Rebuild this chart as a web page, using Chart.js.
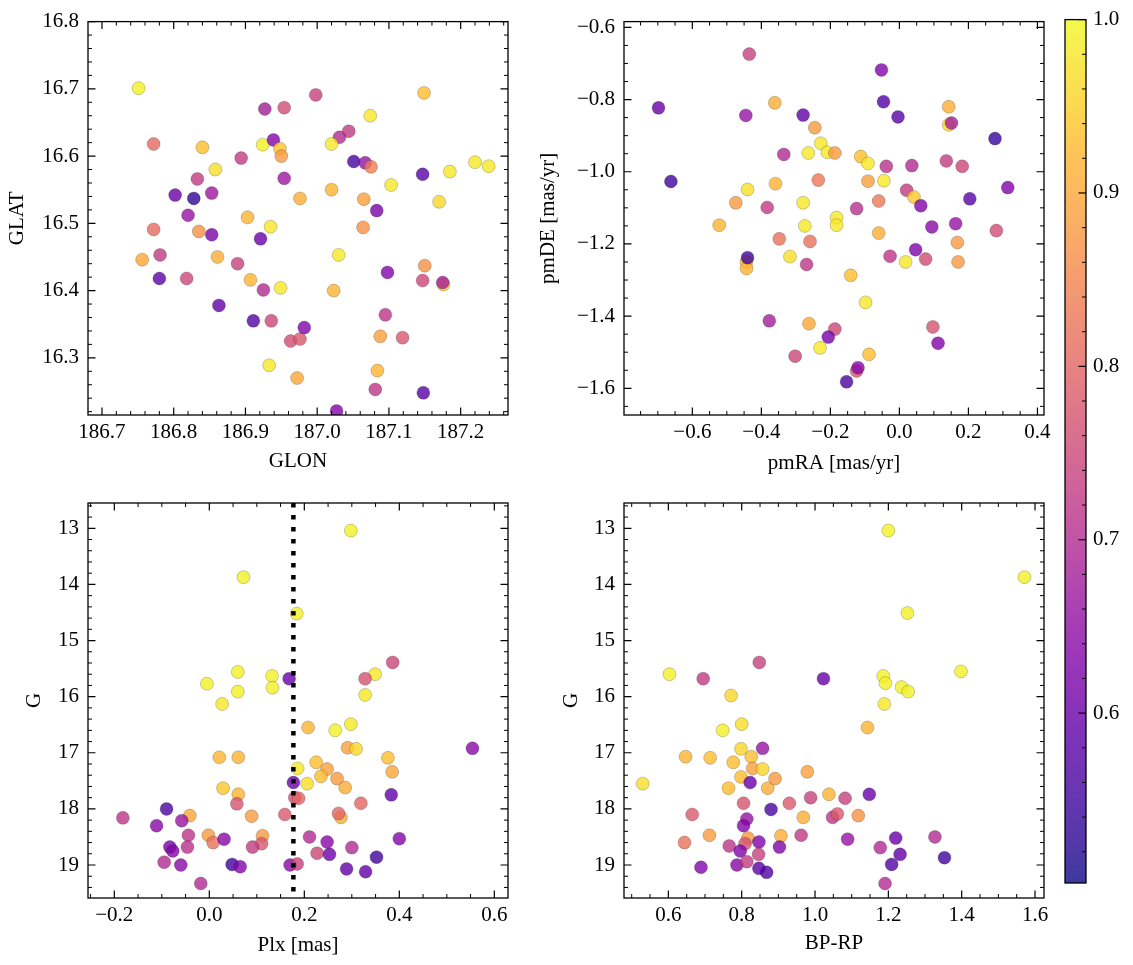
<!DOCTYPE html>
<html><head><meta charset="utf-8">
<script src="https://cdn.jsdelivr.net/npm/chart.js@4.4.0/dist/chart.umd.min.js"></script>
<style>
html,body{margin:0;padding:0;background:#fff;}
#wrap{position:relative;width:1133px;height:965px;background:#fff;}
canvas{position:absolute;left:0;top:0;}
</style></head><body><div id="wrap">
<canvas id="c1" width="1133" height="965"></canvas>
<canvas id="c2" width="1133" height="965"></canvas>
<canvas id="c3" width="1133" height="965"></canvas>
<canvas id="c4" width="1133" height="965"></canvas>
<canvas id="cb" width="1133" height="965"></canvas>
</div>
<script>
// ---------------- DATA ----------------
// Panel 1: sky positions
const GLON = [186.751,186.927,186.954,186.772,186.840,186.924,186.939,186.948,186.950,186.894,186.858,186.833,186.954,186.802,186.828,186.853,186.976,186.820,186.903,186.935,186.772,186.835,186.853,186.921,186.756,186.781,186.861,186.889,186.780,186.818,186.907,186.925,186.949,186.863,186.911,186.936,186.963,186.976,186.982,186.933,186.972,186.998,187.149,187.074,187.044,187.031,187.020,187.051,187.067,187.075,187.147,187.185,187.220,187.239,187.103,187.020,187.065,187.170,187.083,187.064,187.030,187.098,187.150,187.147,187.176,187.175,187.023,187.095,187.088,187.119,187.084,187.081,187.148,187.027];
const GLAT = [16.701,16.670,16.672,16.618,16.613,16.617,16.624,16.611,16.600,16.597,16.580,16.566,16.567,16.542,16.537,16.545,16.537,16.512,16.509,16.495,16.491,16.488,16.483,16.477,16.446,16.453,16.450,16.440,16.418,16.418,16.416,16.401,16.404,16.378,16.355,16.355,16.325,16.328,16.345,16.289,16.270,16.691,16.694,16.660,16.637,16.628,16.618,16.592,16.590,16.584,16.573,16.577,16.591,16.585,16.557,16.550,16.536,16.532,16.519,16.494,16.453,16.427,16.437,16.415,16.409,16.412,16.400,16.364,16.332,16.330,16.281,16.253,16.248,16.221];
const P_SKY = [0.99,0.68,0.76,0.81,0.93,0.99,0.63,0.94,0.88,0.73,0.97,0.73,0.67,0.60,0.53,0.67,0.91,0.66,0.92,0.98,0.81,0.87,0.62,0.60,0.90,0.73,0.91,0.74,0.58,0.75,0.92,0.70,0.98,0.59,0.57,0.75,0.76,0.78,0.63,0.98,0.90,0.74,0.93,0.98,0.73,0.70,0.98,0.56,0.66,0.84,0.58,0.98,0.98,0.98,0.98,0.92,0.89,0.96,0.62,0.87,0.98,0.63,0.87,0.75,0.95,0.68,0.92,0.72,0.89,0.78,0.92,0.72,0.58,0.63];

// Panel 2: proper motions
const PMRA = [-0.435,-0.698,-0.361,-0.445,-0.279,-0.245,-0.228,-0.335,-0.264,-0.209,-0.187,-0.662,-0.235,-0.440,-0.359,-0.474,-0.383,-0.279,-0.522,-0.274,-0.182,-0.182,-0.348,-0.259,-0.443,-0.443,-0.440,-0.317,-0.269,-0.377,-0.262,-0.187,-0.206,-0.230,-0.302,-0.052,-0.046,-0.004,0.143,0.143,0.151,0.277,-0.112,-0.091,-0.038,0.036,0.136,0.182,-0.091,-0.045,0.021,0.042,0.062,0.204,0.314,-0.060,-0.124,-0.060,0.094,0.163,0.281,0.168,0.047,-0.027,0.018,0.076,0.170,-0.141,-0.098,0.097,0.112,-0.088,-0.124,-0.120,-0.153];
const PMDE = [-0.674,-0.823,-0.809,-0.844,-0.843,-0.878,-0.921,-0.952,-0.948,-0.946,-0.948,-1.027,-1.023,-1.049,-1.033,-1.086,-1.099,-1.086,-1.148,-1.150,-1.127,-1.148,-1.186,-1.193,-1.250,-1.268,-1.238,-1.235,-1.257,-1.413,-1.421,-1.436,-1.458,-1.488,-1.511,-0.718,-0.806,-0.848,-0.820,-0.870,-0.865,-0.908,-0.958,-0.977,-0.985,-0.983,-0.970,-0.985,-1.026,-1.025,-1.051,-1.070,-1.094,-1.075,-1.044,-1.081,-1.102,-1.170,-1.153,-1.144,-1.163,-1.196,-1.216,-1.234,-1.250,-1.242,-1.250,-1.287,-1.362,-1.430,-1.475,-1.506,-1.552,-1.543,-1.582];
const P_PM = [0.74,0.60,0.91,0.66,0.59,0.88,0.98,0.70,0.98,0.98,0.88,0.55,0.83,0.97,0.92,0.88,0.73,0.98,0.92,0.98,0.98,0.98,0.82,0.82,0.93,0.92,0.55,0.97,0.72,0.68,0.90,0.75,0.62,0.98,0.75,0.63,0.57,0.58,0.91,0.96,0.68,0.54,0.93,0.98,0.71,0.70,0.73,0.75,0.89,0.98,0.73,0.94,0.63,0.58,0.63,0.83,0.71,0.91,0.64,0.66,0.76,0.88,0.63,0.72,0.98,0.76,0.88,0.93,0.98,0.77,0.63,0.93,0.77,0.64,0.56];

// Panel 3: parallax vs G
const PLX = [0.072,0.184,0.060,-0.005,0.060,0.027,0.132,0.133,0.168,0.021,0.061,0.029,0.061,0.058,0.186,0.177,0.180,0.188,-0.182,-0.090,-0.111,-0.041,-0.058,-0.044,-0.002,0.008,0.031,0.089,0.112,0.110,0.091,0.159,-0.083,-0.077,-0.046,-0.095,-0.060,0.048,0.065,-0.018,0.170,0.185,0.298,0.386,0.349,0.328,0.328,0.208,0.265,0.298,0.291,0.309,0.376,0.385,0.225,0.248,0.235,0.206,0.269,0.286,0.383,0.319,0.277,0.272,0.211,0.248,0.227,0.253,0.300,0.289,0.329,0.352,0.400,0.554];
const G_PLX = [13.87,14.52,15.56,15.77,15.91,16.13,15.63,15.84,15.68,17.08,17.08,17.63,17.74,17.91,17.28,17.53,17.80,17.81,18.16,18.00,18.30,18.12,18.21,18.47,18.47,18.60,18.54,18.13,18.48,18.62,18.68,18.10,18.68,18.75,18.68,18.95,19.00,18.99,19.03,19.33,19.00,18.98,13.04,15.39,15.60,15.68,15.97,16.55,16.60,16.49,16.91,16.93,17.09,17.34,17.17,17.29,17.42,17.55,17.46,17.62,17.75,17.90,18.15,18.08,18.50,18.59,18.79,18.81,18.69,19.07,19.12,18.86,18.53,16.92];
const P_PLX = [0.99,0.99,0.99,0.99,0.99,0.98,0.99,0.99,0.60,0.92,0.92,0.94,0.92,0.77,0.98,0.60,0.76,0.80,0.72,0.56,0.64,0.90,0.66,0.72,0.88,0.82,0.64,0.88,0.88,0.78,0.73,0.78,0.62,0.63,0.71,0.70,0.64,0.55,0.63,0.70,0.64,0.74,0.99,0.75,0.98,0.77,0.98,0.92,0.99,0.98,0.89,0.96,0.93,0.90,0.93,0.89,0.93,0.97,0.88,0.91,0.59,0.80,0.91,0.80,0.70,0.64,0.75,0.60,0.70,0.59,0.59,0.55,0.63,0.64];
const PLX_LINE = 0.177;

// Panel 4: colour-magnitude
const BPRP = [0.603,0.695,0.848,1.023,0.771,0.800,0.748,0.647,0.714,0.798,0.857,0.777,0.826,0.830,0.857,0.798,0.823,0.764,0.871,0.891,0.979,0.530,1.038,1.048,0.805,0.880,0.930,0.988,0.968,0.665,0.814,0.805,0.644,0.712,0.817,0.907,0.962,0.847,0.903,0.766,0.809,0.796,0.846,0.689,0.787,0.814,0.847,0.868,1.200,1.571,1.252,1.186,1.192,1.236,1.254,1.189,1.398,1.143,1.082,1.148,1.061,1.118,1.089,1.220,1.178,1.232,1.209,1.327,1.353,1.191];
const G_CMD = [15.60,15.68,15.39,15.68,15.98,16.49,16.60,17.07,17.09,16.93,16.92,17.17,17.07,17.28,17.29,17.43,17.53,17.63,17.63,17.46,17.34,17.55,17.74,18.15,17.90,18.01,17.90,17.80,18.15,18.10,18.18,18.30,18.60,18.47,18.52,18.48,18.47,18.59,18.68,18.66,18.62,18.75,18.81,19.04,19.00,18.94,19.06,19.13,13.04,13.87,14.51,15.63,15.76,15.83,15.91,16.13,15.55,16.55,17.81,17.74,18.09,18.12,18.54,18.52,18.69,18.81,18.99,18.50,18.87,19.33];
const P_CMD = [0.99,0.73,0.74,0.60,0.96,0.97,0.99,0.92,0.93,0.96,0.66,0.93,0.93,0.89,0.96,0.93,0.60,0.93,0.91,0.88,0.89,0.97,0.92,0.72,0.77,0.56,0.78,0.74,0.91,0.78,0.66,0.63,0.82,0.88,0.88,0.91,0.73,0.63,0.63,0.72,0.77,0.63,0.74,0.63,0.64,0.73,0.58,0.57,0.99,0.99,0.99,0.99,0.99,0.99,0.99,0.98,0.99,0.92,0.74,0.60,0.78,0.87,0.66,0.60,0.70,0.59,0.57,0.70,0.55,0.70];

// Tick labels
const GLON_TICKS = [186.7,186.8,186.9,187.0,187.1,187.2];
const GLAT_TICKS = [16.3,16.4,16.5,16.6,16.7,16.8];
const PMRA_TICKS = [-0.6,-0.4,-0.2,0.0,0.2,0.4];
const PMDE_TICKS = [-1.6,-1.4,-1.2,-1.0,-0.8,-0.6];
const PLX_TICKS = [-0.2,0.0,0.2,0.4,0.6];
const G_TICKS = [13,14,15,16,17,18,19];
const BPRP_TICKS = [0.6,0.8,1.0,1.2,1.4,1.6];
const CB_TICKS = [0.6,0.7,0.8,0.9,1.0];
const P_MIN = 0.502, P_MAX = 1.0;

// ---------------- STYLE ----------------
const FONT = "'Liberation Serif', 'Times New Roman', serif";
const FS = 21;
const ALPHA = 0.8;
const PLASMA = ['#0d0887','#2a0593','#41049d','#5601a4','#6a00a8','#7e03a8','#8f0da4','#a11b9b','#b12a90','#bf3984','#cc4778','#d6556d','#e16462','#ea7457','#f2844b','#f89540','#fca636','#feb72d','#fcce25','#f7e225','#f0f921'];
function hex(h){return [parseInt(h.slice(1,3),16),parseInt(h.slice(3,5),16),parseInt(h.slice(5,7),16)];}
const PL = PLASMA.map(hex);
function plasmaT(t, a){
  t = Math.max(0, Math.min(1, t));
  const f = t * (PL.length - 1), i = Math.min(PL.length - 2, Math.floor(f)), u = f - i;
  const c = PL[i].map((v, k) => Math.round(v + (PL[i+1][k] - v) * u));
  return `rgba(${c[0]},${c[1]},${c[2]},${a})`;
}
const colorOf = p => plasmaT((p - P_MIN) / (P_MAX - P_MIN), ALPHA);
const fmt = (v, d) => (v < -1e-9 ? '\u2212' : '') + Math.abs(v).toFixed(d);

Chart.defaults.font.family = FONT;
Chart.defaults.font.size = FS;
Chart.defaults.color = '#000';

const frameTicks = {
  id: 'frameTicks',
  afterDatasetsDraw(chart, args, opts) {
    const {ctx, chartArea: a} = chart;
    ctx.save();
    ctx.strokeStyle = '#000';
    ctx.lineCap = 'butt';
    const each = (scale, cfg, cb) => {
      if (!cfg || !scale) return;
      const lo = Math.min(scale.min, scale.max), hi = Math.max(scale.min, scale.max);
      cfg.major.forEach(v => { if (v >= lo - 1e-9 && v <= hi + 1e-9) cb(scale.getPixelForValue(v), true); });
      const k0 = Math.ceil(lo / cfg.minor - 1e-6), k1 = Math.floor(hi / cfg.minor + 1e-6);
      for (let k = k0; k <= k1; k++) {
        const v = k * cfg.minor;
        if (cfg.major.some(m => Math.abs(m - v) < cfg.minor * 0.01)) continue;
        cb(scale.getPixelForValue(v), false);
      }
    };
    const MAJ = 7.5, MIN = 4;
    each(chart.scales.x, opts.xt, (px, maj) => {
      const L = maj ? MAJ : MIN;
      ctx.lineWidth = maj ? 1.2 : 1.0;
      ctx.beginPath();
      ctx.moveTo(px, a.bottom); ctx.lineTo(px, a.bottom - L);
      ctx.moveTo(px, a.top); ctx.lineTo(px, a.top + L);
      ctx.stroke();
    });
    each(chart.scales.y, opts.yt, (py, maj) => {
      const L = maj ? MAJ : MIN;
      ctx.lineWidth = maj ? 1.2 : 1.0;
      ctx.beginPath();
      if (!opts.rightOnly) { ctx.moveTo(a.left, py); ctx.lineTo(a.left + L, py); }
      ctx.moveTo(a.right, py); ctx.lineTo(a.right - L, py);
      ctx.stroke();
    });
    ctx.lineWidth = 1.3;
    ctx.strokeRect(a.left, a.top, a.right - a.left, a.bottom - a.top);
    ctx.restore();
  }
};

const cbFill = {
  id: 'cbFill',
  beforeDatasetsDraw(chart) {
    const {ctx, chartArea: a} = chart;
    const g = ctx.createLinearGradient(0, a.bottom, 0, a.top);
    for (let i = 0; i <= 60; i++) g.addColorStop(i / 60, plasmaT(i / 60, ALPHA));
    ctx.save();
    ctx.fillStyle = g;
    ctx.fillRect(a.left, a.top, a.right - a.left, a.bottom - a.top);
    ctx.restore();
  }
};

function axis({min, max, ticks, dec, title, size, pad, tpad, position, reverse}) {
  const horiz = position === 'bottom';
  return {
    type: 'linear', position, min, max, reverse: !!reverse,
    grid: {display: false, drawTicks: false},
    border: {display: false},
    afterBuildTicks: s => { s.ticks = ticks.map(v => ({value: v})); },
    afterFit: s => { if (horiz) s.height = size; else s.width = size; },
    ticks: {autoSkip: false, maxRotation: 0, minRotation: 0, padding: pad, color: '#000',
            font: {family: FONT, size: FS}, callback: v => fmt(v, dec)},
    title: title ? {display: true, text: title, color: '#000', font: {family: FONT, size: FS},
            padding: horiz ? {top: 0, bottom: tpad} : {top: tpad, bottom: 0}} : {display: false}
  };
}

function pts(xs, ys) { return xs.map((x, i) => ({x, y: ys[i]})); }

function scatterChart(id, o) {
  const datasets = [{
    type: 'scatter',
    data: pts(o.xs, o.ys),
    backgroundColor: o.ps.map(colorOf),
    borderColor: 'rgba(30,30,30,0.45)',
    borderWidth: 0.5,
    pointRadius: 6.5,
    pointHoverRadius: 6.5,
    clip: 0,
    order: 1
  }];
  if (o.extra) datasets.push(o.extra);
  return new Chart(document.getElementById(id), {
    type: 'scatter',
    data: {datasets},
    plugins: [frameTicks],
    options: {
      responsive: false, animation: false, devicePixelRatio: 1,
      layout: {padding: o.padding},
      plugins: {legend: {display: false}, tooltip: {enabled: false},
                frameTicks: {xt: o.xt, yt: o.yt}},
      scales: {x: o.x, y: o.y}
    }
  });
}

// Panel 1
scatterChart('c1', {
  xs: GLON, ys: GLAT, ps: P_SKY,
  padding: {left: 0, top: 21, right: 625, bottom: 485},
  x: axis({min: 186.6805, max: 187.266, ticks: GLON_TICKS, dec: 1, title: 'GLON', size: 65, pad: 5, tpad: 6, position: 'bottom'}),
  y: axis({min: 16.215, max: 16.8, ticks: GLAT_TICKS, dec: 1, title: 'GLAT', size: 88, pad: 9, tpad: 5, position: 'left'}),
  xt: {major: GLON_TICKS, minor: 0.02}, yt: {major: GLAT_TICKS, minor: 0.02}
});

// Panel 2
scatterChart('c2', {
  xs: PMRA, ys: PMDE, ps: P_PM,
  padding: {left: 530, top: 21, right: 89, bottom: 485},
  x: axis({min: -0.798, max: 0.419, ticks: PMRA_TICKS, dec: 1, title: 'pmRA [mas/yr]', size: 65, pad: 5, tpad: 4, position: 'bottom'}),
  y: axis({min: -1.674, max: -0.584, ticks: PMDE_TICKS, dec: 1, title: 'pmDE [mas/yr]', size: 94, pad: 9, tpad: 6, position: 'left'}),
  xt: {major: PMRA_TICKS, minor: 0.05}, yt: {major: PMDE_TICKS, minor: 0.05}
});

// Panel 3
const G_MIN = 12.549, G_MAX = 19.588;
scatterChart('c3', {
  xs: PLX, ys: G_PLX, ps: P_PLX,
  padding: {left: 0, top: 503, right: 625, bottom: 3},
  x: axis({min: -0.2554, max: 0.6288, ticks: PLX_TICKS, dec: 1, title: 'Plx [mas]', size: 64, pad: 5, tpad: 4, position: 'bottom'}),
  y: axis({min: G_MIN, max: G_MAX, ticks: G_TICKS, dec: 0, title: 'G', size: 88, pad: 9, tpad: 22, position: 'left', reverse: true}),
  xt: {major: PLX_TICKS, minor: 0.05}, yt: {major: G_TICKS, minor: 0.2},
  extra: {
    type: 'line',
    data: [{x: PLX_LINE, y: G_MIN}, {x: PLX_LINE, y: G_MAX}],
    borderColor: '#000', borderWidth: 4.5, borderDash: [4.5, 7.5], borderCapStyle: 'butt',
    pointRadius: 0, fill: false, clip: 0, order: 0
  }
});

// Panel 4
scatterChart('c4', {
  xs: BPRP, ys: G_CMD, ps: P_CMD,
  padding: {left: 530, top: 503, right: 89, bottom: 3},
  x: axis({min: 0.479, max: 1.6245, ticks: BPRP_TICKS, dec: 1, title: 'BP-RP', size: 64, pad: 5, tpad: 6, position: 'bottom'}),
  y: axis({min: G_MIN, max: G_MAX, ticks: G_TICKS, dec: 0, title: 'G', size: 94, pad: 9, tpad: 29, position: 'left', reverse: true}),
  xt: {major: BPRP_TICKS, minor: 0.05}, yt: {major: G_TICKS, minor: 0.2}
});

// Colorbar
new Chart(document.getElementById('cb'), {
  type: 'scatter',
  data: {datasets: []},
  plugins: [cbFill, frameTicks],
  options: {
    responsive: false, animation: false, devicePixelRatio: 1,
    layout: {padding: {left: 1065, top: 16, right: 0, bottom: 82}},
    plugins: {legend: {display: false}, tooltip: {enabled: false},
              frameTicks: {yt: {major: CB_TICKS, minor: 0.02}, rightOnly: true}},
    scales: {
      x: {display: false, min: 0, max: 1},
      y: axis({min: P_MIN, max: P_MAX, ticks: CB_TICKS, dec: 1, title: null, size: 47, pad: 7, tpad: 0, position: 'right'})
    }
  }
});
</script>
</body></html>
